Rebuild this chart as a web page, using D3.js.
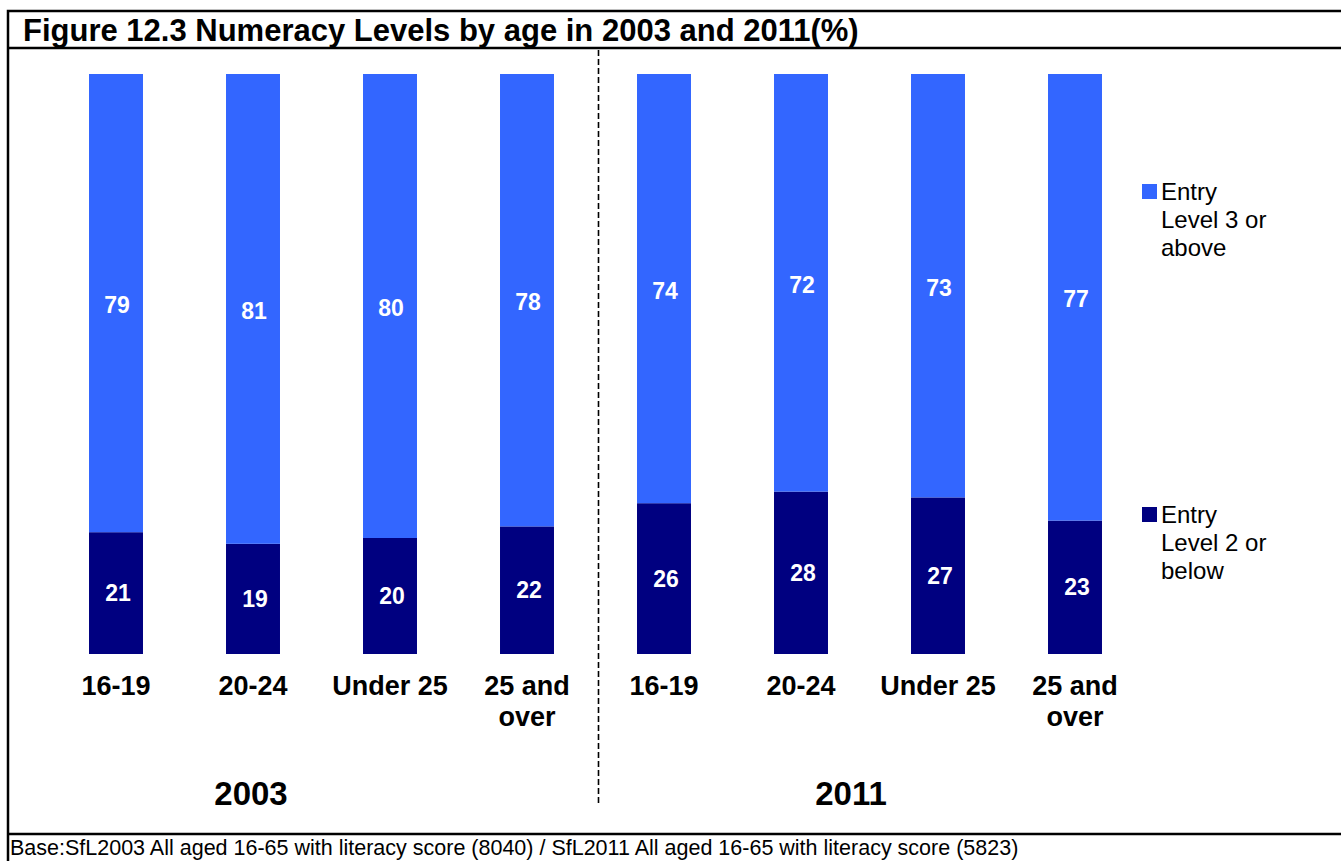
<!DOCTYPE html>
<html>
<head>
<meta charset="utf-8">
<script src="https://cdn.jsdelivr.net/npm/d3@7"></script>
<style>
  body { margin: 0; background: #fff; }
  svg { display: block; font-family: "Liberation Sans", Arial, sans-serif; }
</style>
</head>
<body>
<div id="container"></div>
<script>
// ---------------- DATA ----------------
var categories = ["16-19", "20-24", "Under 25", "25 and over", "16-19", "20-24", "Under 25", "25 and over"];
var years = ["2003", "2011"];
var level2Below = [21, 19, 20, 22, 26, 28, 27, 23];
var level3Above = [79, 81, 80, 78, 74, 72, 73, 77];
var seriesNames = ["Entry Level 3 or above", "Entry Level 2 or below"];

var width = 1341, height = 861;

var svg = d3.select("#container").append("svg")
    .attr("width", width)
    .attr("height", height);

// frame
svg.append("rect").attr("x", 8).attr("y", 11).attr("width", width).attr("height", height)
    .attr("fill", "none").attr("stroke", "#000").attr("stroke-width", 2.5);
svg.append("line").attr("x1", 8).attr("x2", width).attr("y1", 48).attr("y2", 48)
    .attr("stroke", "#000").attr("stroke-width", 2.5);
svg.append("line").attr("x1", 8).attr("x2", width).attr("y1", 834).attr("y2", 834)
    .attr("stroke", "#000").attr("stroke-width", 2.5);

svg.append("text")
    .attr("x", 23).attr("y", 41)
    .style("font-size", "31px").style("font-weight", "bold")
    .text("Figure 12.3 Numeracy Levels by age in 2003 and 2011(%)");

svg.append("text")
    .attr("x", 10).attr("y", 855)
    .style("font-size", "21.5px")
    .text("Base:SfL2003 All aged 16-65 with literacy score (8040) / SfL2011 All aged 16-65 with literacy score (5823)");

// ---------------- SCALES ----------------
var x = d3.scaleBand()
    .domain(d3.range(categories.length))
    .range([47.5, 1143.5])
    .paddingInner(0.606)
    .paddingOuter(0.303);

var y = d3.scaleLinear().domain([0, 100]).range([654, 74]);

var colors = { low: "#000080", high: "#3366FF" };

var rows = categories.map(function(c, i) {
    return { i: i, cat: c, low: level2Below[i], high: level3Above[i] };
});

// ---------------- BARS ----------------
var g = svg.append("g");

g.selectAll(".low").data(rows).enter().append("rect")
    .attr("x", d => x(d.i))
    .attr("width", x.bandwidth())
    .attr("y", d => y(d.low))
    .attr("height", d => y(0) - y(d.low))
    .attr("fill", colors.low);

g.selectAll(".high").data(rows).enter().append("rect")
    .attr("x", d => x(d.i))
    .attr("width", x.bandwidth())
    .attr("y", d => y(d.low + d.high))
    .attr("height", d => y(d.low) - y(d.low + d.high))
    .attr("fill", colors.high);

// value labels
g.selectAll(".lowlab").data(rows).enter().append("text")
    .attr("x", d => x(d.i) + x.bandwidth() / 2 + 2)
    .attr("y", d => (y(0) + y(d.low)) / 2 + 8)
    .attr("text-anchor", "middle")
    .style("fill", "#fff").style("font-weight", "bold").style("font-size", "23px")
    .text(d => d.low);

g.selectAll(".highlab").data(rows).enter().append("text")
    .attr("x", d => x(d.i) + x.bandwidth() / 2 + 1)
    .attr("y", d => (y(d.low) + y(d.low + d.high)) / 2 + 10)
    .attr("text-anchor", "middle")
    .style("fill", "#fff").style("font-weight", "bold").style("font-size", "23px")
    .text(d => d.high);

// category labels (wrapped)
var catLab = g.selectAll(".cat").data(rows).enter().append("text")
    .attr("text-anchor", "middle")
    .style("font-weight", "bold").style("font-size", "27px");

catLab.each(function(d) {
    var t = d3.select(this);
    var lines = d.cat === "25 and over" ? ["25 and", "over"] : [d.cat];
    lines.forEach(function(l, k) {
        t.append("tspan")
            .attr("x", x(d.i) + x.bandwidth() / 2)
            .attr("y", 695 + k * 31)
            .text(l);
    });
});

// year labels
var yearX = [251, 851];
svg.selectAll(".year").data(years).enter().append("text")
    .attr("x", (d, i) => yearX[i])
    .attr("y", 805)
    .attr("text-anchor", "middle")
    .style("font-weight", "bold").style("font-size", "33px")
    .text(d => d);

// divider
var divX = (x(3) + x.bandwidth() + x(4)) / 2 + 3;
svg.append("line")
    .attr("x1", divX).attr("x2", divX)
    .attr("y1", 50).attr("y2", 803)
    .attr("stroke", "#000").attr("stroke-width", 1.6)
    .attr("stroke-dasharray", "6,3");

// ---------------- LEGEND ----------------
var legend = [
    { name: seriesNames[0], color: colors.high, y: 184, lines: ["Entry", "Level 3 or", "above"] },
    { name: seriesNames[1], color: colors.low, y: 507, lines: ["Entry", "Level 2 or", "below"] }
];
var lg = svg.selectAll(".leg").data(legend).enter().append("g");
lg.append("rect")
    .attr("x", 1142).attr("y", d => d.y)
    .attr("width", 15).attr("height", 15)
    .attr("fill", d => d.color);
lg.append("text")
    .style("font-size", "24px")
    .each(function(d) {
        var t = d3.select(this);
        d.lines.forEach(function(l, k) {
            t.append("tspan").attr("x", 1161).attr("y", d.y + 16 + k * 28).text(l);
        });
    });
</script>
</body>
</html>
